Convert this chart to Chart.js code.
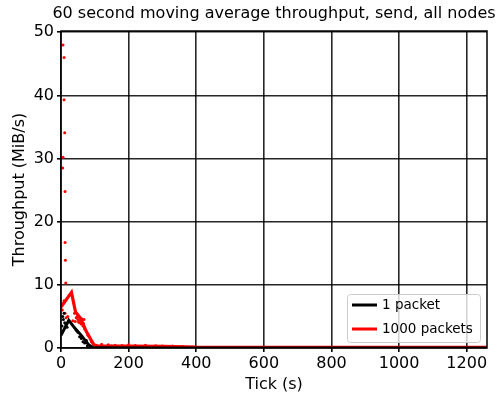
<!DOCTYPE html>
<html lang="en">
<head>
  <meta charset="UTF-8">
  <title>Throughput chart</title>
  <style>
    html, body { margin: 0; padding: 0; background: #fff; }
    #wrap { width: 502px; height: 396px; }
  </style>
</head>
<body>
  <div id="wrap"><canvas id="chart" width="502" height="396"></canvas></div>

  <script src="https://cdn.jsdelivr.net/npm/chart.js"></script>
  <script>
    // data
    const titleText = '60 second moving average throughput, send, all nodes';
    const seriesNames = ['1 packet', '1000 packets'];
    const xTicks = [0, 200, 400, 600, 800, 1000, 1200];
    const yTicks = [0, 10, 20, 30, 40, 50];

    // moving average lines
    const blackLineX = [0, 23, 40, 60, 82, 95, 120, 300, 1260];
    const blackLineY = [2.0, 4.4, 3.2, 2.0, 0.5, 0.05, 0.02, 0, 0];
    const redLineX = [0, 31, 43, 58, 75, 97, 110, 200, 300, 370, 400, 600, 800, 1000, 1260];
    const redLineY = [6.5, 8.8, 5.7, 4.7, 2.6, 0.5, 0.3, 0.3, 0.25, 0.2, 0.15, 0.12, 0.1, 0.1, 0.1];

    // raw samples
    const blackDotX = [3, 5, 7, 9, 11, 14, 18, 45, 50, 55, 60, 65, 70, 75, 78, 150, 200, 260, 300, 330];
    const blackDotY = [3.5, 5.0, 4.5, 5.5, 4.0, 3.8, 3.3, 2.8, 2.5, 1.8, 1.5, 1.0, 0.8, 1.2, 0.3, 0.3, 0.25, 0.2, 0.15, 0.2];
    const redDotX = [6, 9, 9, 11, 6, 5, 12, 12, 13, 14, 4, 6, 9, 12, 15, 20, 35, 40, 45, 50, 55, 60, 65, 68, 70, 80, 90,
                     120, 140, 160, 180, 200, 220, 250, 280, 300, 330, 360, 42, 48, 52, 58, 62, 66];
    const redDotY = [48.0, 46.0, 39.3, 34.1, 30.2, 28.5, 24.8, 16.7, 13.9, 10.3, 6.0, 7.0, 7.5, 5.5, 4.8, 5.0, 4.3, 5.5,
                     4.8, 4.5, 4.0, 3.8, 3.5, 4.5, 3.0, 2.0, 1.0, 0.6, 0.5, 0.45, 0.4, 0.5, 0.4, 0.45, 0.35, 0.3, 0.3, 0.25,
                     4.2, 5.0, 4.1, 4.4, 4.6, 3.9];

    const pts = (xs, ys) => xs.map((x, i) => ({ x: x, y: ys[i] }));
    const FONT = 'DejaVu Sans';

    // title, frame and legend drawn like matplotlib
    const mplExtras = {
      id: 'mplExtras',
      afterDraw(chart) {
        const ctx = chart.ctx;
        const a = chart.chartArea;
        ctx.save();
        // frame
        ctx.strokeStyle = '#000';
        ctx.lineWidth = 1.5;
        ctx.strokeRect(a.left, a.top, a.right - a.left, a.bottom - a.top);
        // title
        ctx.fillStyle = '#000';
        ctx.font = '16px ' + FONT;
        ctx.textAlign = 'center';
        ctx.textBaseline = 'middle';
        ctx.fillText(titleText, (a.left + a.right) / 2, 14);
        // legend
        const bx = 347, by = 294, bw = 133, bh = 48;
        ctx.fillStyle = 'rgba(255,255,255,0.8)';
        ctx.strokeStyle = '#cccccc';
        ctx.lineWidth = 1;
        ctx.beginPath();
        ctx.roundRect(bx + 0.5, by + 0.5, bw, bh, 3);
        ctx.fill();
        ctx.stroke();
        const colors = ['#000000', '#ff0000'];
        ctx.font = '13.5px ' + FONT;
        ctx.textAlign = 'left';
        seriesNames.forEach((name, i) => {
          const ly = by + 11 + i * 24;
          ctx.strokeStyle = colors[i];
          ctx.lineWidth = 3;
          ctx.beginPath();
          ctx.moveTo(bx + 5, ly);
          ctx.lineTo(bx + 30, ly);
          ctx.stroke();
          ctx.fillStyle = '#000';
          ctx.fillText(name, bx + 35, ly);
        });
        ctx.restore();
      }
    };

    new Chart(document.getElementById('chart'), {
      type: 'scatter',
      data: {
        datasets: [
          { label: seriesNames[0], data: pts(blackLineX, blackLineY), showLine: true, borderColor: '#000',
            borderWidth: 3, pointRadius: 0, fill: false },
          { label: seriesNames[1], data: pts(redLineX, redLineY), showLine: true, borderColor: '#ff0000',
            borderWidth: 3.2, pointRadius: 0, fill: false },
          { label: 'black samples', data: pts(blackDotX, blackDotY), showLine: false, pointRadius: 1.5,
            backgroundColor: '#000', borderWidth: 0 },
          { label: 'red samples', data: pts(redDotX, redDotY), showLine: false, pointRadius: 1.5,
            backgroundColor: '#ff0000', borderWidth: 0 }
        ]
      },
      options: {
        responsive: false,
        animation: false,
        layout: { padding: { left: 0, right: 15, top: 31, bottom: 0 } },
        plugins: {
          legend: { display: false },
          title: { display: false },
          tooltip: { enabled: false }
        },
        scales: {
          x: {
            type: 'linear',
            min: 0,
            max: 1260,
            afterBuildTicks: s => { s.ticks = xTicks.map(v => ({ value: v })); },
            afterFit: s => { s.height = 48; },
            grid: { color: 'rgba(0,0,0,0.85)', lineWidth: 1.6, tickLength: 4, tickColor: '#000' },
            border: { display: false },
            ticks: { color: '#000', font: { family: FONT, size: 16 }, padding: 2, maxRotation: 0, callback: v => String(v) },
            title: { display: true, text: 'Tick (s)', color: '#000', font: { family: FONT, size: 16 }, padding: { top: 0, bottom: 1.5 } }
          },
          y: {
            type: 'linear',
            min: 0,
            max: 50.2,
            afterBuildTicks: s => { s.ticks = yTicks.map(v => ({ value: v })); },
            afterFit: s => { s.width = 61; },
            grid: { color: 'rgba(0,0,0,0.85)', lineWidth: 1.6, tickLength: 4, tickColor: '#000' },
            border: { display: false },
            ticks: { color: '#000', font: { family: FONT, size: 16 }, padding: 3, callback: v => String(v) },
            title: { display: true, text: 'Throughput (MiB/s)', color: '#000', font: { family: FONT, size: 16 }, padding: { top: 10, bottom: 0 } }
          }
        }
      },
      plugins: [mplExtras]
    });
  </script>
</body>
</html>
